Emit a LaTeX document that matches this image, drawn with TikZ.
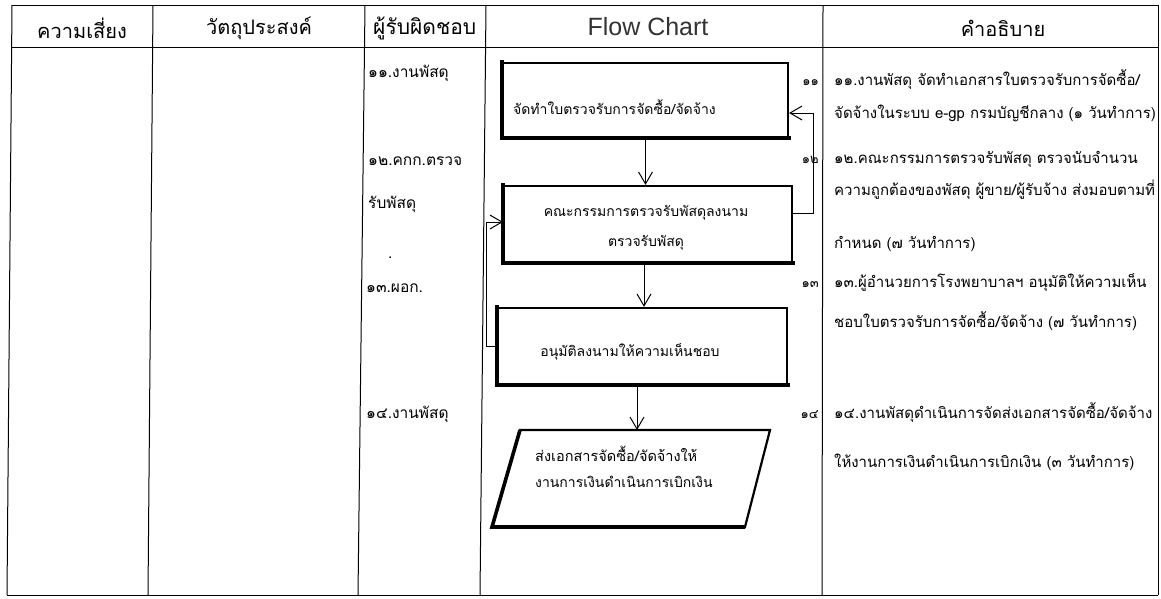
\documentclass[tikz,border=0pt]{standalone}
\usepackage{fontspec}
\usetikzlibrary{arrows.meta}
\newfontfamily\thai[Script=Thai]{Loma}
\newfontfamily\latinf{Liberation Sans}
\tikzset{
  gridline/.style={line width=1pt},
  box/.style={draw, line width=2.2pt, inner sep=0pt},
  heavy/.style={line width=3.6pt, line cap=rect},
  barb/.style={-{Straight Barb[length=12pt,width=14pt]}, line width=1pt},
  hdr/.style={inner sep=0pt, font=\thai\fontsize{20}{22}\selectfont},
  desc/.style={anchor=base west, inner sep=0pt, font=\thai\fontsize{15}{17}\selectfont},
  num/.style={anchor=base east, inner sep=0pt, font=\thai\fontsize{13}{15}\selectfont},
  resp/.style={anchor=base west, inner sep=0pt, font=\thai\fontsize{15.5}{17}\selectfont},
  btext/.style={inner sep=0pt, font=\thai\fontsize{14}{16}\selectfont, align=center}
}
\begin{document}
\begin{tikzpicture}[x=1pt,y=-1pt]
\useasboundingbox (0,0) rectangle (1161,598);
\fill[white] (0,0) rectangle (1161,598);
% table
\draw[gridline] (12,5) -- (1158,5);
\draw[gridline] (12,47) -- (1158,47);
\draw[gridline] (7,595) -- (1158,595);
\draw[gridline] (12,5) -- (7,595);
\draw[gridline] (153,5) -- (148,595);
\draw[gridline] (365,5) -- (358,595);
\draw[gridline] (486,5) -- (480,595);
\draw[gridline] (823,5) -- (822,595);
\draw[gridline] (1158,5) -- (1158,595);
% headers
\node[hdr] (h1) at (82,28) {ความเสี่ยง};
\node[hdr] (h2) at (259,28) {วัตถุประสงค์};
\begin{scope}
\clip (366,6) rectangle (484,46);
\node[inner sep=0pt, anchor=west, font=\thai\fontsize{21}{23}\selectfont] (h3) at (373,28) {ผู้รับผิดชอบ};
\end{scope}
\node[inner sep=0pt, text=black!80, font=\latinf\fontsize{25}{27}\selectfont] (h4) at (648,27) {Flow Chart};
\node[hdr] (h5) at (1003,28) {คำอธิบาย};
% responsible column
\node[resp] (r1) at (368,77) {๑๑.งานพัสดุ};
\node[resp] (r2) at (368,165) {๑๒.คกก.ตรวจ};
\node[resp] (r3) at (368,208) {รับพัสดุ};
\node[resp] (rdot) at (388,258) {.};
\node[resp] (r4) at (366,292) {๑๓.ผอก.};
\node[resp] (r5) at (366,418) {๑๔.งานพัสดุ};
% flow chart
\node[box, minimum width=285pt, minimum height=74pt] (b1) at (645.5,100) {};
\draw[heavy] (b1.north west) -- (b1.south west) -- (b1.south east);
\node[btext, anchor=base west] (t1) at (513,114) {จัดทำใบตรวจรับการจัดซื้อ/จัดจ้าง};
\node[box, minimum width=288pt, minimum height=76pt] (b2) at (648,224) {};
\draw[heavy] (b2.north west) -- (b2.south west) -- (b2.south east);
\node[btext, anchor=base] (t2a) at (646,216) {คณะกรรมการตรวจรับพัสดุลงนาม};
\node[btext, anchor=base] (t2b) at (646,246) {ตรวจรับพัสดุ};
\node[box, minimum width=289pt, minimum height=76pt] (b3) at (642.5,346) {};
\draw[heavy] (b3.north west) -- (b3.south west) -- (b3.south east);
\node[btext, anchor=base] (t3) at (630,356) {อนุมัติลงนามให้ความเห็นชอบ};
\coordinate (p1) at (520,430);
\coordinate (p2) at (770,430);
\coordinate (p3) at (745,527);
\coordinate (p4) at (492,527);
\coordinate (ptop) at (637,430);
\draw[line width=2.2pt, line join=miter] (p1) -- (p2) -- (p3) -- (p4) -- cycle;
\draw[heavy, line cap=butt] (p1) -- (p4) -- (p3);
\node[btext, anchor=base west, font=\thai\fontsize{14.5}{16}\selectfont] (t4a) at (535,461) {ส่งเอกสารจัดซื้อ/จัดจ้างให้};
\node[btext, anchor=base west] (t4b) at (535,487) {งานการเงินดำเนินการเบิกเงิน};
% connectors
\draw[barb] (b1.south) -- (b1.south |- b2.north);
\draw[barb] ([xshift=-4pt]b2.south) -- ([xshift=-4pt]b2.south |- b3.north);
\draw[barb] ([xshift=-5.5pt]b3.south) -- (ptop);
\draw[barb] ([yshift=11pt]b2.east) -- ++(20,0) |- ([yshift=-13pt]b1.east);
\draw[barb] (b3.west) -- ++(-10,0) |- ([yshift=2pt]b2.west);
% description numbers
\node[num] (n1) at (819,85) {๑๑};
\node[num] (n2) at (819,163) {๑๒};
\node[num] (n3) at (819,287) {๑๓};
\node[num] (n4) at (819,418) {๑๔};
% descriptions
\node[desc] (d1) at (834,85) {๑๑.งานพัสดุ จัดทำเอกสารใบตรวจรับการจัดซื้อ/};
\node[desc] (d2) at (834,118) {จัดจ้างในระบบ e-gp กรมบัญชีกลาง (๑ วันทำการ)};
\node[desc] (d3) at (834,163) {๑๒.คณะกรรมการตรวจรับพัสดุ ตรวจนับจำนวน};
\node[desc] (d4) at (834,195) {ความถูกต้องของพัสดุ ผู้ขาย/ผู้รับจ้าง ส่งมอบตามที่};
\node[desc] (d5) at (834,248) {กำหนด (๗ วันทำการ)};
\node[desc] (d6) at (834,287) {๑๓.ผู้อำนวยการโรงพยาบาลฯ อนุมัติให้ความเห็น};
\node[desc] (d7) at (834,327) {ชอบใบตรวจรับการจัดซื้อ/จัดจ้าง (๗ วันทำการ)};
\node[desc] (d8) at (834,418) {๑๔.งานพัสดุดำเนินการจัดส่งเอกสารจัดซื้อ/จัดจ้าง};
\node[desc] (d9) at (834,467) {ให้งานการเงินดำเนินการเบิกเงิน (๓ วันทำการ)};
\end{tikzpicture}
\end{document}
